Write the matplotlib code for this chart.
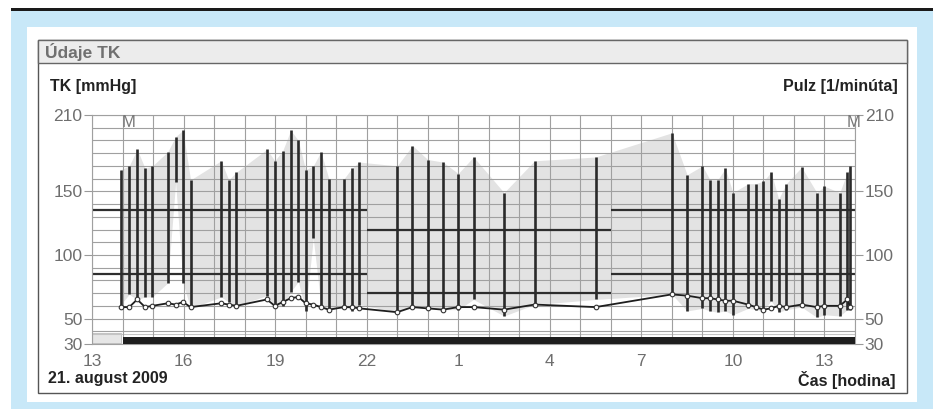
import numpy as np
import matplotlib
matplotlib.use("Agg")
import matplotlib.pyplot as plt
from matplotlib.patches import Rectangle
from matplotlib.ticker import MultipleLocator, FixedLocator

plt.rcParams['font.family'] = ['Liberation Sans', 'DejaVu Sans']

# ---- measurements (hour of day, continuing past midnight as 24+) ----
day1_time = [13.94, 14.22, 14.48, 14.74, 14.98, 15.48, 15.74, 15.98, 16.23,
             17.23, 17.48, 17.73, 18.73, 18.99, 19.25, 19.51, 19.76, 20.00,
             20.25, 20.50, 20.76, 21.26, 21.51, 21.76]
day1_sys = [167, 170, 183, 168, 170, 181, 193, 198, 159,
            174, 159, 165, 183, 174, 182, 198, 190, 167,
            170, 181, 160, 160, 168, 173]
day1_dia = [61, 69, 65, 67, 67, 78, 157, 78, 58,
            67, 63, 60, 68, 60, 60, 71, 79, 56,
            113, 61, 56, 60, 56, 61]
day1_pulse = [59, 59, 65, 59, 60, 62, 61, 63, 59,
              62, 61, 60, 65, 60, 63, 66, 67, 62,
              61, 59, 57, 59, 59, 58]

night_time = [23.0, 23.5, 24.0, 24.5, 25.0, 25.5, 26.5, 27.5, 29.5]
night_sys = [170, 186, 175, 173, 164, 177, 149, 174, 177]
night_dia = [55, 60, 59, 57, 57, 65, 52, 61, 65]
night_pulse = [55, 59, 58, 57, 59, 59, 57, 61, 59]

day2_time = [32.0, 32.5, 33.0, 33.25, 33.5, 33.75, 34.0, 34.5, 34.75,
             35.0, 35.25, 35.5, 35.75, 36.25, 36.75, 37.0, 37.5, 37.75, 37.84]
day2_sys = [196, 163, 170, 159, 159, 168, 149, 156, 156,
            158, 165, 144, 156, 169, 149, 154, 149, 165, 170]
day2_dia = [69, 56, 58, 56, 55, 56, 53, 58, 57,
            56, 64, 55, 57, 59, 51, 53, 52, 57, 57]
day2_pulse = [69, 68, 66, 66, 65, 64, 64, 61, 59,
              57, 58, 60, 59, 61, 59, 60, 60, 65, 59]

# blood pressure limits: (start hour, end hour, systolic limit, diastolic limit)
limit_start = [13, 22, 30]
limit_end = [22, 30, 38]
limit_sys = [135, 120, 135]
limit_dia = [85, 70, 85]

x_ticks = [13, 16, 19, 22, 25, 28, 31, 34, 37]
x_tick_labels = ['13', '16', '19', '22', '1', '4', '7', '10', '13']
y_ticks = [30, 50, 100, 150, 210]

t = np.array(day1_time + night_time + day2_time)
sys_v = np.array(day1_sys + night_sys + day2_sys)
dia_v = np.array(day1_dia + night_dia + day2_dia)
pulse = np.array(day1_pulse + night_pulse + day2_pulse)

W, H = 939, 409
fig = plt.figure(figsize=(W / 100, H / 100), dpi=100)


def box(x0, y0, x1, y1, **kw):
    fig.patches.append(Rectangle((x0 / W, 1 - y1 / H), (x1 - x0) / W,
                                 (y1 - y0) / H, transform=fig.transFigure,
                                 zorder=-10, **kw))


def ftext(x, y, s, **kw):
    fig.text(x / W, 1 - y / H, s, **kw)


# page frame
box(11, 8, 933, 11, facecolor='#1a1a1a', edgecolor='none')
box(11, 11, 933, 409, facecolor='#c8e8f8', edgecolor='none')
box(27, 27, 917, 402, facecolor='white', edgecolor='none')
box(38, 40, 907, 393, facecolor='white', edgecolor='#555555', linewidth=1.0)
box(38, 40, 907, 63, facecolor='#ececec', edgecolor='#666666', linewidth=1.0)

ftext(45, 52, 'Údaje TK', fontsize=12.5, fontweight='bold', color='#707070',
      va='center', ha='left')
ftext(50, 86, 'TK [mmHg]', fontsize=11.5, fontweight='bold', color='#222222',
      va='center', ha='left')
ftext(898, 86, 'Pulz [1/minúta]', fontsize=11.5, fontweight='bold',
      color='#222222', va='center', ha='right')
ftext(48, 379, '21. august 2009', fontsize=11.5, fontweight='bold',
      color='#222222', va='center', ha='left')
ftext(896, 380, 'Čas [hodina]', fontsize=11.5, fontweight='bold',
      color='#222222', va='center', ha='right')

ax = fig.add_axes([92 / W, 1 - 344 / H, (855 - 92) / W, (344 - 115) / H])
ax.set_xlim(13, 38)
ax.set_ylim(30, 210)
ax.patch.set_alpha(0)

# grey band between systolic and diastolic readings
ax.fill_between(t, dia_v, sys_v, color='#e3e3e3', linewidth=0, zorder=0.8)

# measurement period bar and the idle box before it
ax.add_patch(Rectangle((13, 31), t[0] - 13, 8, facecolor='#e6e6e6',
                       edgecolor='#bbbbbb', linewidth=0.6, zorder=0.9))
ax.add_patch(Rectangle((14.02, 30), 38 - 14.02, 5.5, facecolor='#1e1e1e',
                       edgecolor='none', zorder=3))
ax.axhline(37.5, color='#c4c4c4', linewidth=0.8, zorder=0.9)

# limits
for x0, x1, s, d in zip(limit_start, limit_end, limit_sys, limit_dia):
    ax.hlines([s, d], x0, x1, color='#2e2e2e', linewidth=1.6, zorder=2.5)

# systolic-diastolic bars
ax.vlines(t, dia_v, sys_v, color='#2a2a2a', linewidth=1.9, zorder=3)

# pulse
ax.plot(t, pulse, color='#1e1e1e', linewidth=1.3, marker='o', markersize=3.3,
        markerfacecolor='white', markeredgecolor='#333333',
        markeredgewidth=0.8, zorder=4)

ax.text(14.2, 204, 'M', fontsize=12, color='#777777', ha='center', va='center')
ax.text(37.95, 204, 'M', fontsize=12, color='#777777', ha='center', va='center',
        clip_on=False)

# grid
ax.xaxis.set_major_locator(FixedLocator(x_ticks))
ax.set_xticklabels(x_tick_labels)
ax.xaxis.set_minor_locator(MultipleLocator(1))
ax.yaxis.set_major_locator(FixedLocator(y_ticks))
ax.yaxis.set_minor_locator(MultipleLocator(10))
ax.grid(which='both', color='#a0a0a0', linewidth=0.8)
ax.tick_params(axis='both', which='minor', length=0)
ax.tick_params(axis='x', which='major', length=0, pad=7, labelsize=12.5,
               labelcolor='#6e6e6e')
ax.tick_params(axis='y', which='major', length=6, width=0.8, color='#999999',
               left=True, right=True, labelleft=True, labelright=True,
               labelsize=12.5, labelcolor='#6e6e6e', pad=1)
for sp in ax.spines.values():
    sp.set_color('#a0a0a0')
    sp.set_linewidth(0.8)

fig.savefig('out.png', dpi=100)
